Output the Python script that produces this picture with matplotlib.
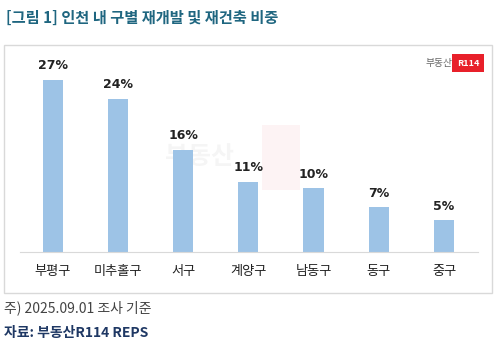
import matplotlib.pyplot as plt
from matplotlib.patches import Rectangle

plt.rcParams['font.family'] = ['Noto Sans CJK KR', 'DejaVu Sans']

# 데이터
districts = ["부평구", "미추홀구", "서구", "계양구", "남동구", "동구", "중구"]
shares = [27, 24, 16, 11, 10, 7, 5]

fig = plt.figure(figsize=(5, 3.52), dpi=100)

# 바깥 테두리
fig.patches.append(Rectangle((4/500, 1-293/352), 488/500, 248/352,
                             transform=fig.transFigure, fill=False,
                             edgecolor="#d9d9d9", linewidth=1))

ax = fig.add_axes([0.04, 0.284, 0.916, 0.543])
ax.patch.set_visible(False)
x = range(len(districts))
ax.bar(x, shares, width=0.31, color="#9dc3e6", zorder=2)

for i, v in enumerate(shares):
    ax.text(i, v + 1.2, f"{v}%", ha="center", va="bottom",
            fontsize=9, fontweight="bold", color="#222222",
            family="DejaVu Sans")

ax.set_xlim(-0.5, 6.52)
ax.set_ylim(0, 30)
ax.set_xticks(list(x))
ax.set_xticklabels(districts, fontsize=9.5, color="#222222")
ax.tick_params(axis="x", length=0, pad=9)
ax.set_yticks([])
for s in ["top", "left", "right"]:
    ax.spines[s].set_visible(False)
ax.spines["bottom"].set_color("#d9d9d9")

# 워터마크 (막대 뒤)
fig.text(0.40, 0.555, "부동산", fontsize=18, fontweight="bold",
         color="#000000", alpha=0.04, ha="center", va="center", zorder=-1)
fig.patches.append(Rectangle((262/500, 1-190/352), 38/500, 65/352,
                             transform=fig.transFigure, facecolor="#e8202a",
                             edgecolor="none", alpha=0.05, zorder=-1))

# 로고
fig.text(0.905, 0.82, "부동산", fontsize=7, color="#666666",
         ha="right", va="center")
fig.text(0.936, 0.82, "R114", fontsize=6.5, fontweight="bold",
         color="white", ha="center", va="center",
         bbox=dict(boxstyle="square,pad=0.5", fc="#e8202a", ec="none"))

fig.text(0.012, 0.948, "[그림 1] 인천 내 구별 재개발 및 재건축 비중",
         fontsize=11, fontweight="bold", color="#1f6680",
         ha="left", va="center")
fig.text(0.008, 0.125, "주) 2025.09.01 조사 기준", fontsize=10,
         color="#444444", ha="left", va="center")
fig.text(0.008, 0.053, "자료: 부동산R114 REPS", fontsize=10,
         fontweight="bold", color="#1f3864", ha="left", va="center")

fig.savefig("out.png", dpi=100)
